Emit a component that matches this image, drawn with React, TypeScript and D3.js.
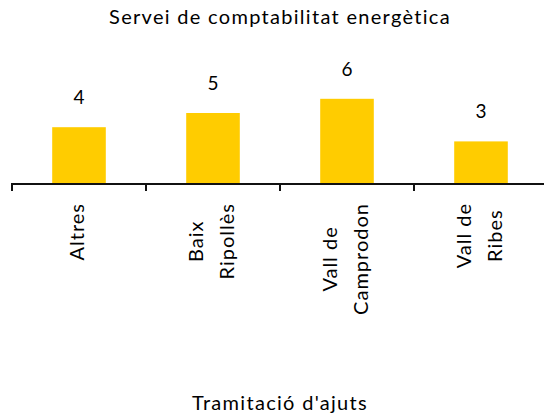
import React, { useEffect, useRef } from "react";
import * as d3 from "d3";

const categories: string[][] = [["Altres"], ["Baix", "Ripollès"], ["Vall de", "Camprodon"], ["Vall de", "Ribes"]];
const values: number[] = [4, 5, 6, 3];
const title = "Servei de comptabilitat energètica";
const axisTitle = "Tramitació d'ajuts";

const W = 544;
const H = 414;
const FONT = "Lato, 'DejaVu Sans', sans-serif";

export default function App() {
  const ref = useRef<SVGSVGElement | null>(null);

  useEffect(() => {
    const svg = d3.select(ref.current);
    svg.selectAll("*").remove();

    const keys = categories.map((c) => c.join(" "));
    const x = d3.scaleBand<string>().domain(keys).range([12, 548]).paddingInner(0.6).paddingOuter(0.3);
    const y = d3.scaleLinear().domain([0, 6]).range([184, 98.8]);
    const step = x.step();

    // title
    svg.append("text")
      .attr("x", 280).attr("y", 24)
      .attr("text-anchor", "middle")
      .attr("font-family", FONT).attr("font-size", 20)
      .attr("letter-spacing", 1.3)
      .attr("fill", "#000")
      .text(title);

    // bars
    svg.append("g").selectAll("rect")
      .data(values)
      .join("rect")
      .attr("x", (_, i) => x(keys[i])!)
      .attr("width", x.bandwidth())
      .attr("y", (d) => y(d))
      .attr("height", (d) => y(0) - y(d))
      .attr("fill", "#FFCC00");

    // value labels
    svg.append("g").selectAll("text")
      .data(values)
      .join("text")
      .attr("x", (_, i) => x(keys[i])! + x.bandwidth() / 2)
      .attr("y", (d) => y(d) - 23)
      .attr("text-anchor", "middle")
      .attr("font-family", FONT).attr("font-size", 19)
      .attr("fill", "#000")
      .text((d) => String(d));

    // axis line and ticks
    const g = svg.append("g");
    g.append("line")
      .attr("x1", 11).attr("x2", 548)
      .attr("y1", y(0)).attr("y2", y(0))
      .attr("stroke", "#111").attr("stroke-width", 2);
    g.selectAll("line.tick")
      .data(d3.range(keys.length + 1))
      .join("line")
      .attr("class", "tick")
      .attr("x1", (i) => 12 + i * step).attr("x2", (i) => 12 + i * step)
      .attr("y1", y(0)).attr("y2", y(0) + 7)
      .attr("stroke", "#111").attr("stroke-width", 2);

    // category labels (rotated)
    const lineGap = 31;
    categories.forEach((lines, i) => {
      const c = x(keys[i])! + x.bandwidth() / 2;
      const texts = lines.map((ln) =>
        svg.append("text")
          .attr("font-family", FONT).attr("font-size", 20)
          .attr("letter-spacing", 1)
          .attr("fill", "#000")
          .attr("text-anchor", "middle")
          .text(ln)
      );
      const maxLen = d3.max(texts, (t) => (t.node() as SVGTextElement).getComputedTextLength()) || 0;
      const cy = 203 + maxLen / 2;
      texts.forEach((t, j) => {
        const bx = c + 5 + (j - (lines.length - 1) / 2) * lineGap;
        t.attr("transform", `translate(${bx},${cy}) rotate(-90)`);
      });
    });

    // axis title
    svg.append("text")
      .attr("x", 280).attr("y", 410)
      .attr("text-anchor", "middle")
      .attr("font-family", FONT).attr("font-size", 20)
      .attr("letter-spacing", 1.3)
      .attr("fill", "#000")
      .text(axisTitle);
  }, []);

  return (
    <svg
      ref={ref}
      width={W}
      height={H}
      style={{ position: "absolute", left: 0, top: 0, background: "#fff" }}
    />
  );
}
